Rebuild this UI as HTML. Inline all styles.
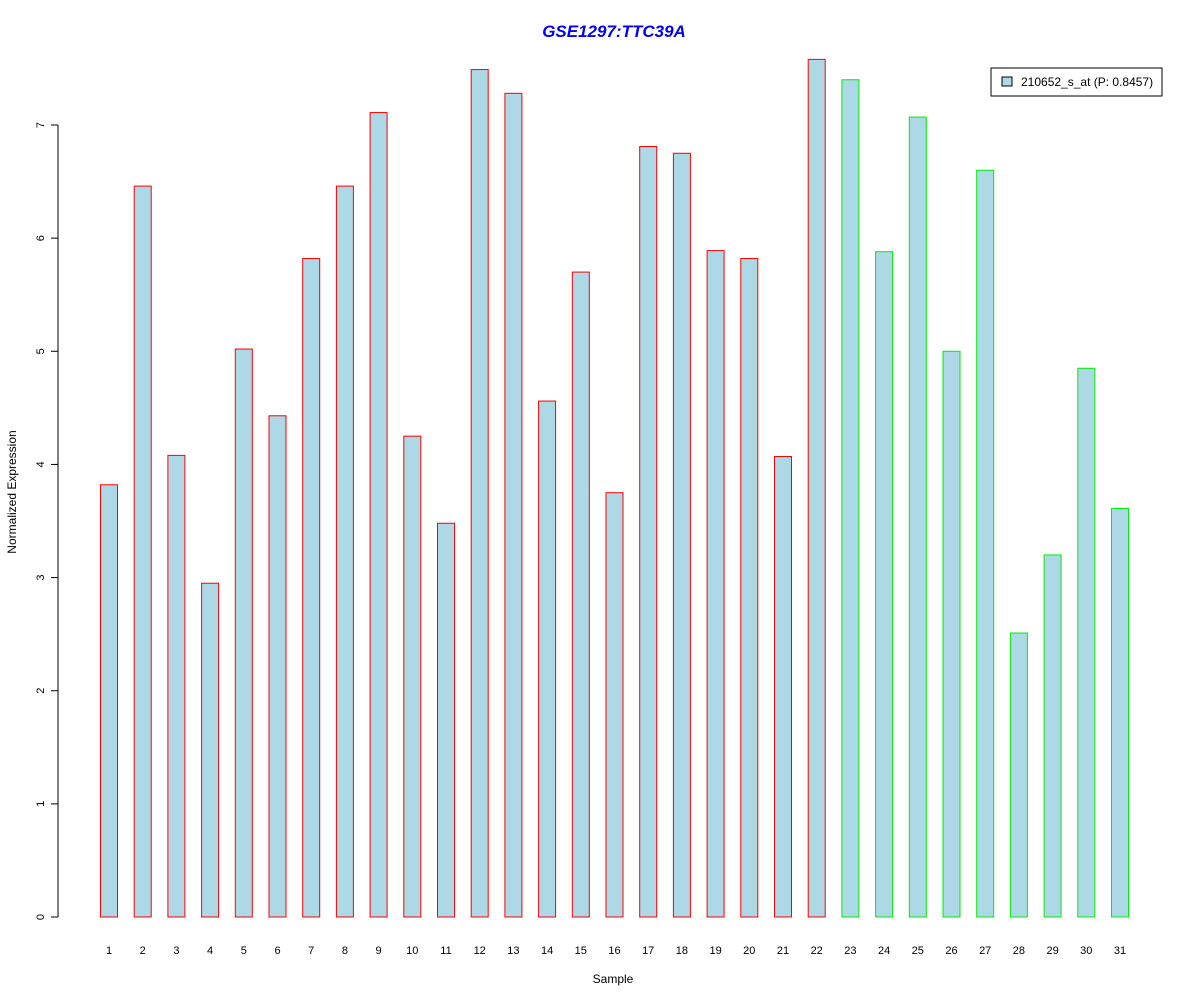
<!DOCTYPE html>
<html><head><meta charset="utf-8"><style>
html,body{margin:0;padding:0;background:#fff;}
svg{display:block;font-family:"Liberation Sans",Arial,sans-serif;}
</style></head><body>
<svg id="chart" width="1200" height="1000" viewBox="0 0 1200 1000">
<text x="614" y="37" text-anchor="middle" font-size="17" font-weight="bold" font-style="italic" fill="#0000ee">GSE1297:TTC39A</text>
<text transform="translate(16,492) rotate(-90)" text-anchor="middle" font-size="12">Normalized Expression</text>
<text x="613" y="983" text-anchor="middle" font-size="12">Sample</text>
<g id="yaxis"></g>
<g id="bars"></g>
<g id="xlabels"></g>
<g>
<rect x="991" y="68" width="171" height="28" fill="#fff" stroke="#000"/>
<rect x="1002" y="77" width="10" height="9" fill="#add8e6" stroke="#000"/>
<text x="1021" y="86" font-size="12">210652_s_at (P: 0.8457)</text>
</g>
</svg>
<script>
const categories = ["1","2","3","4","5","6","7","8","9","10","11","12","13","14","15","16","17","18","19","20","21","22","23","24","25","26","27","28","29","30","31"];
const values = [3.82,6.46,4.08,2.95,5.02,4.43,5.82,6.46,7.11,4.25,3.48,7.49,7.28,4.56,5.70,3.75,6.81,6.75,5.89,5.82,4.07,7.58,7.40,5.88,7.07,5.00,6.60,2.51,3.20,4.85,3.61];
const groups = ["a","a","a","a","a","a","a","a","a","a","a","a","a","a","a","a","a","a","a","a","a","a","b","b","b","b","b","b","b","b","b"];
const yTicks = [0,1,2,3,4,5,6,7];
const NS="http://www.w3.org/2000/svg";
const y0=917, yScale=(917-125)/7;
function y(v){return y0 - v*yScale;}
function x(i){return 100 + i*33.7;}
const bw=17;
const ya=document.getElementById('yaxis');
let ln=document.createElementNS(NS,'line');
ln.setAttribute('x1',58);ln.setAttribute('x2',58);ln.setAttribute('y1',y(yTicks[0]));ln.setAttribute('y2',y(yTicks[yTicks.length-1]));ln.setAttribute('stroke','#000');


ya.appendChild(ln);
yTicks.forEach(t=>{
  const tk=document.createElementNS(NS,'line');
  tk.setAttribute('x1',51);tk.setAttribute('x2',58);tk.setAttribute('y1',y(t));tk.setAttribute('y2',y(t));tk.setAttribute('stroke','#000');
  
  
  ya.appendChild(tk);
  const tx=document.createElementNS(NS,'text');
  tx.setAttribute('transform','translate(44,'+y(t)+') rotate(-90)');
  tx.setAttribute('text-anchor','middle');tx.setAttribute('font-size','11');
  tx.textContent=t;
  
  
  ya.appendChild(tx);
});
const bg=document.getElementById('bars'), xl=document.getElementById('xlabels');
values.forEach((v,i)=>{
  const r=document.createElementNS(NS,'rect');
  r.setAttribute('x',x(i)+0.5);r.setAttribute('y',y(v));r.setAttribute('width',bw);r.setAttribute('height',y0-y(v));
  r.setAttribute('fill','#add8e6');r.setAttribute('stroke',groups[i]==='a'?'#ff0000':'#00ee00');
  
  
  bg.appendChild(r);
  const t=document.createElementNS(NS,'text');
  t.setAttribute('x',x(i)+bw/2+0.5);t.setAttribute('y',954);t.setAttribute('text-anchor','middle');t.setAttribute('font-size','11');
  t.textContent=categories[i];
  
  
  xl.appendChild(t);
});
</script>
</body></html>
